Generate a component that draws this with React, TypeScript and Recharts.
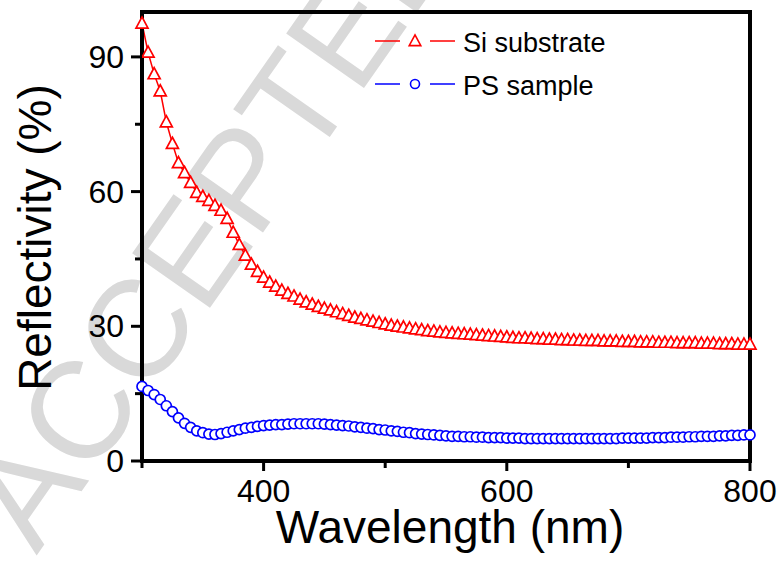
import React from 'react';
import { LineChart, Line, XAxis, YAxis, Legend, ReferenceLine } from 'recharts';

const wavelengths = [
  300, 305, 310, 315, 320, 325, 330, 335, 340, 345,
  350, 355, 360, 365, 370, 375, 380, 385, 390, 395,
  400, 405, 410, 415, 420, 425, 430, 435, 440, 445,
  450, 455, 460, 465, 470, 475, 480, 485, 490, 495,
  500, 505, 510, 515, 520, 525, 530, 535, 540, 545,
  550, 555, 560, 565, 570, 575, 580, 585, 590, 595,
  600, 605, 610, 615, 620, 625, 630, 635, 640, 645,
  650, 655, 660, 665, 670, 675, 680, 685, 690, 695,
  700, 705, 710, 715, 720, 725, 730, 735, 740, 745,
  750, 755, 760, 765, 770, 775, 780, 785, 790, 795,
  800,
];

const siSubstrate = [
  97.5, 91.0, 86.2, 82.4, 75.5, 70.7, 66.4, 64.2, 62.0, 59.8,
  58.9, 58.0, 56.9, 55.8, 54.0, 50.9, 48.2, 45.8, 43.8, 42.2,
  40.9, 39.8, 38.9, 38.0, 37.3, 36.7, 36.0, 35.4, 34.9, 34.4,
  34.0, 33.6, 33.2, 32.8, 32.4, 32.0, 31.7, 31.4, 31.1, 30.8,
  30.5, 30.2, 30.0, 29.8, 29.6, 29.4, 29.2, 29.0, 28.9, 28.7,
  28.6, 28.5, 28.4, 28.3, 28.2, 28.1, 28.0, 27.9, 27.8, 27.7,
  27.6, 27.5, 27.4, 27.4, 27.3, 27.2, 27.2, 27.1, 27.1, 27.0,
  27.0, 26.9, 26.9, 26.8, 26.8, 26.8, 26.7, 26.7, 26.7, 26.6,
  26.6, 26.6, 26.5, 26.5, 26.5, 26.4, 26.4, 26.4, 26.3, 26.3,
  26.3, 26.3, 26.2, 26.2, 26.2, 26.1, 26.1, 26.1, 26.0, 26.0,
  26.0,
];

const psSample = [
  16.6, 15.7, 14.8, 13.7, 12.3, 11.0, 9.6, 8.4, 7.5, 6.7,
  6.3, 6.0, 5.9, 6.1, 6.4, 6.7, 7.0, 7.3, 7.5, 7.7,
  7.9, 8.0, 8.1, 8.1, 8.2, 8.3, 8.3, 8.3, 8.3, 8.3,
  8.2, 8.1, 8.0, 7.9, 7.8, 7.6, 7.5, 7.3, 7.2, 7.0,
  6.9, 6.7, 6.6, 6.4, 6.3, 6.1, 6.0, 5.9, 5.8, 5.7,
  5.6, 5.5, 5.5, 5.4, 5.4, 5.3, 5.3, 5.2, 5.2, 5.2,
  5.1, 5.1, 5.1, 5.0, 5.0, 5.0, 5.0, 5.0, 5.0, 5.0,
  5.0, 5.0, 5.0, 5.0, 5.0, 5.0, 5.0, 5.0, 5.0, 5.1,
  5.1, 5.1, 5.1, 5.1, 5.2, 5.2, 5.2, 5.3, 5.3, 5.3,
  5.4, 5.4, 5.5, 5.5, 5.5, 5.6, 5.6, 5.7, 5.7, 5.8,
  5.8,
];

const xTicks = [300, 400, 500, 600, 700, 800];
const xLabeled = [400, 600, 800];
const yTicks = [0, 15, 30, 45, 60, 75, 90];
const yLabeled = [0, 30, 60, 90];
const xDomain = [300, 800];
const yDomain = [0, 100];

const seriesNames = ['Si substrate', 'PS sample'];
const RED = '#ff0000';
const BLUE = '#0000ff';
const FONT = '"Liberation Sans", Arial, Helvetica, sans-serif';

const W = 784;
const H = 562;
const MARGIN = { top: 12, right: 34, bottom: 0, left: 0 };
const Y_AXIS_W = 142;
const X_AXIS_H = 101;

const data = wavelengths.map((w, i) => ({ w, si: siSubstrate[i], ps: psSample[i] }));

const triPath = (cx: number, cy: number, s: number) =>
  `M${cx},${cy - s * 1.05} L${cx + s},${cy + s * 0.8} L${cx - s},${cy + s * 0.8} Z`;

const TriangleDot = (props: any) => {
  const { cx, cy, index } = props;
  if (cx == null || cy == null) return <g key={`t-${index}`} />;
  return (
    <path key={`t-${index}`} d={triPath(cx, cy, 6)} fill="#fff" stroke={RED} strokeWidth={1.7} />
  );
};

const XTick = (props: any) => {
  const { x, y, payload } = props;
  const major = xLabeled.includes(payload.value);
  return (
    <g>
      <line x1={x} x2={x} y1={y} y2={y + (major ? 10 : 7)} stroke="#000" strokeWidth={3} />
      {major && (
        <text x={x} y={y + 41} textAnchor="middle" fontSize={32} fontFamily={FONT} fill="#000">
          {payload.value}
        </text>
      )}
    </g>
  );
};

const YTick = (props: any) => {
  const { x, y, payload } = props;
  const major = yLabeled.includes(payload.value);
  return (
    <g>
      <line x1={x} x2={x - (major ? 11 : 7)} y1={y} y2={y} stroke="#000" strokeWidth={3} />
      {major && (
        <text x={x - 18} y={y + 11} textAnchor="end" fontSize={32} fontFamily={FONT} fill="#000">
          {payload.value}
        </text>
      )}
    </g>
  );
};

const XTitle = (props: any) => {
  const { viewBox } = props;
  const { x, y, width } = viewBox;
  return (
    <text x={x + width / 2 + 4} y={y + 82} textAnchor="middle" fontSize={46} fontFamily={FONT} fill="#000">
      Wavelength (nm)
    </text>
  );
};

const YTitle = (props: any) => {
  const { viewBox } = props;
  const { y, height } = viewBox;
  const cx = 51;
  const cy = y + height / 2 + 1;
  return (
    <text
      x={cx}
      y={cy}
      transform={`rotate(-90 ${cx} ${cy})`}
      textAnchor="middle"
      fontSize={46}
      fontFamily={FONT}
      fill="#000"
    >
      Reflectivity (%)
    </text>
  );
};

const LegendContent = () => (
  <svg width={280} height={90} style={{ display: 'block' }}>
    <line x1={5} x2={30} y1={21} y2={21} stroke={RED} strokeWidth={1.5} />
    <path d={triPath(45, 21, 5.8)} fill="#fff" stroke={RED} strokeWidth={1.6} />
    <line x1={60} x2={85} y1={21} y2={21} stroke={RED} strokeWidth={1.5} />
    <text x={93} y={32} fontSize={27} fontFamily={FONT} fill="#000">{seriesNames[0]}</text>
    <line x1={5} x2={30} y1={64} y2={64} stroke={BLUE} strokeWidth={1.5} />
    <circle cx={45} cy={64} r={4.5} fill="#fff" stroke={BLUE} strokeWidth={1.6} />
    <line x1={60} x2={85} y1={64} y2={64} stroke={BLUE} strokeWidth={1.5} />
    <text x={93} y={75} fontSize={27} fontFamily={FONT} fill="#000">{seriesNames[1]}</text>
  </svg>
);

export default function App() {
  return (
    <div style={{ position: 'absolute', left: 0, top: 0, width: W, height: H, background: '#fff' }}>
      <svg width={W} height={H} style={{ position: 'absolute', left: 0, top: 0 }}>
        <text
          x={252}
          y={248}
          transform="rotate(-55 252 248)"
          textAnchor="middle"
          fontSize={138}
          fontFamily={FONT}
          fill="#d9d9d9"
        >
          ACCEPTED
        </text>
      </svg>
      <div style={{ position: 'absolute', left: 0, top: 0 }}>
        <LineChart width={W} height={H} data={data} margin={MARGIN}>
          <XAxis
            dataKey="w"
            type="number"
            domain={xDomain}
            ticks={xTicks}
            tick={<XTick />}
            tickLine={false}
            tickSize={0}
            tickMargin={0}
            axisLine={{ stroke: '#000', strokeWidth: 4 }}
            height={X_AXIS_H}
            interval={0}
            label={<XTitle />}
          />
          <YAxis
            type="number"
            domain={yDomain}
            ticks={yTicks}
            tick={<YTick />}
            tickLine={false}
            tickSize={0}
            tickMargin={0}
            axisLine={{ stroke: '#000', strokeWidth: 4 }}
            width={Y_AXIS_W}
            interval={0}
            label={<YTitle />}
          />
          <Line
            type="linear"
            dataKey="si"
            name={seriesNames[0]}
            stroke={RED}
            strokeWidth={1.5}
            dot={TriangleDot}
            activeDot={false}
            isAnimationActive={false}
          />
          <Line
            type="linear"
            dataKey="ps"
            name={seriesNames[1]}
            stroke={BLUE}
            strokeWidth={1.5}
            dot={{ r: 5, fill: '#fff', stroke: BLUE, strokeWidth: 1.7 }}
            activeDot={false}
            isAnimationActive={false}
          />
          <ReferenceLine
            segment={[{ x: xDomain[0], y: yDomain[1] }, { x: xDomain[1], y: yDomain[1] }]}
            stroke="#000"
            strokeWidth={4}
            strokeLinecap="square"
            ifOverflow="visible"
          />
          <ReferenceLine
            segment={[{ x: xDomain[1], y: yDomain[0] }, { x: xDomain[1], y: yDomain[1] }]}
            stroke="#000"
            strokeWidth={4}
            strokeLinecap="square"
            ifOverflow="visible"
          />
          <ReferenceLine
            segment={[{ x: xDomain[0], y: yDomain[0] }, { x: xDomain[0], y: yDomain[1] }]}
            stroke="#000"
            strokeWidth={4}
            strokeLinecap="square"
            ifOverflow="visible"
          />
          <ReferenceLine
            segment={[{ x: xDomain[0], y: yDomain[0] }, { x: xDomain[1], y: yDomain[0] }]}
            stroke="#000"
            strokeWidth={4}
            strokeLinecap="square"
            ifOverflow="visible"
          />
          <Legend
            layout="horizontal"
            verticalAlign="middle"
            align="center"
            content={<LegendContent />}
            wrapperStyle={{ position: 'absolute', left: 370, top: 20, width: 280, height: 90 }}
          />
        </LineChart>
      </div>
    </div>
  );
}
